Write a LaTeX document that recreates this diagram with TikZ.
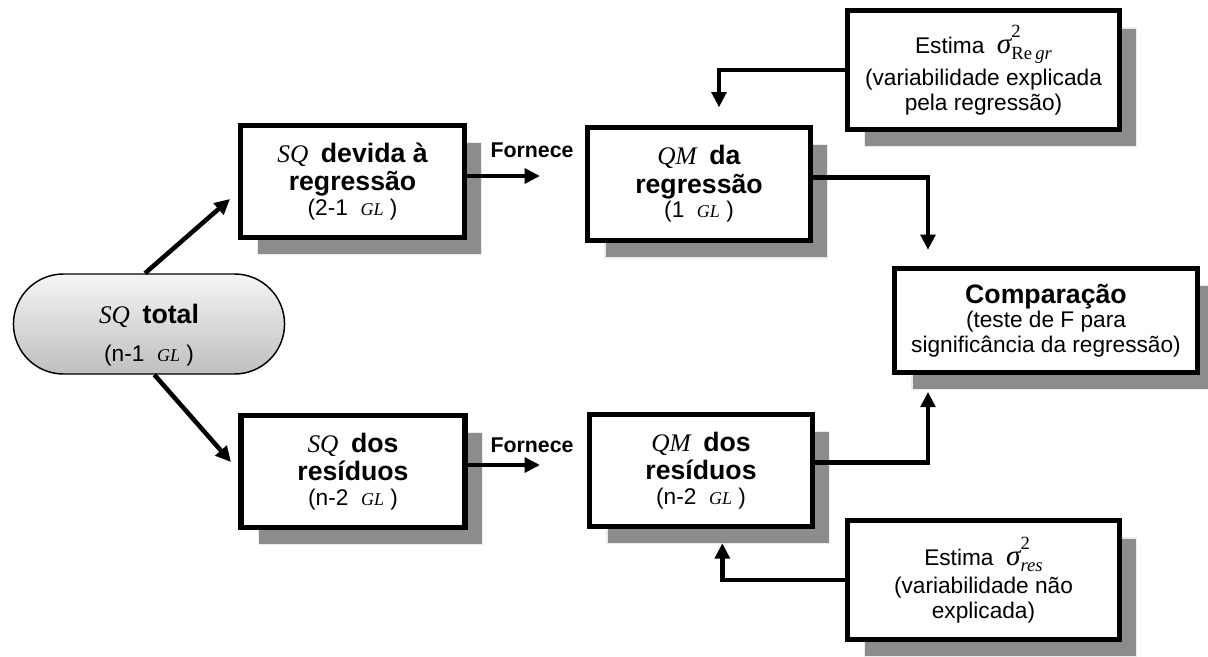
\documentclass[tikz,border=0pt]{standalone}
\usepackage{fontspec}
\setmainfont{Liberation Sans}
\newfontfamily\tnr{Liberation Serif}
\usetikzlibrary{arrows.meta,shapes.misc,shadows}

% italic serif symbols
\newcommand{\mi}[1]{{\tnr\fontsize{19}{19}\selectfont\itshape #1}}
\newcommand{\gl}{{\tnr\fontsize{13.5}{13.5}\selectfont\itshape GL}}
\newcommand{\nb}[1]{{\bfseries\fontsize{20}{22}\selectfont #1}}
\newcommand{\sig}[1]{{\tnr\fontsize{22}{22}\selectfont\itshape σ}{\tnr\fontsize{14}{14}\selectfont\raisebox{12pt}{\rlap{2}}\raisebox{-5pt}{#1}}}

\begin{document}
\begin{tikzpicture}[x=0.75pt,y=-0.75pt,
  caixa/.style={draw, line width=4pt, fill=white, align=center, inner sep=0pt,
    minimum width=168pt, minimum height=84pt, font=\fontsize{17}{18.5}\selectfont,
    drop shadow={shadow xshift=13pt, shadow yshift=-13pt, opacity=1,
      fill=black!45, draw=gray!15, line width=0.8pt}},
  pilula/.style={rounded rectangle, draw, line width=1.1pt, top color=gray!8,
    bottom color=gray!50, minimum width=210pt, minimum height=75pt, align=center,
    font=\fontsize{17}{18.5}\selectfont},
  seta/.style={line width=3.4pt, -{Triangle[length=11.5pt,width=11pt]}},
  rotulo/.style={font=\bfseries\fontsize{16}{17}\selectfont, inner sep=0pt}]
\useasboundingbox (0,0) rectangle (1208,657);

\node[pilula] (total) at (149,324) {\raisebox{-14pt}[0pt][0pt]{\begin{tabular}{@{}c@{}}\mi{SQ}\ \ \nb{total}\\[10pt](n-1\ \ \gl\ )\end{tabular}}};

\node[caixa] (sqreg) at (352.5,181.5) {\mi{SQ}\ \ \nb{devida à}\\[3pt]\nb{regressão}\\(2-1\ \ \gl\ )};
\node[caixa] (sqres) at (353,471.5) {\mi{SQ}\ \ \nb{dos}\\[3pt]\nb{resíduos}\\(n-2\ \ \gl\ )};
\node[caixa, minimum width=167pt, minimum height=85pt] (qmreg) at (699,184) {\mi{QM}\ \ \nb{da}\\[3pt]\nb{regressão}\\(1\ \ \gl\ )};
\node[caixa, minimum width=167pt] (qmres) at (701,470.5) {\mi{QM}\ \ \nb{dos}\\[3pt]\nb{resíduos}\\(n-2\ \ \gl\ )};

\node[caixa, minimum width=204pt, minimum height=89pt] (estreg) at (983.5,70) {Estima \ \sig{Re\,\itshape gr}\\[3pt](variabilidade explicada\\pela regressão)};
\node[caixa, minimum width=204pt, minimum height=89pt] (estres) at (983.5,580) {Estima \ \sig{\itshape res}\\[3pt](variabilidade não\\explicada)};
\node[caixa, minimum width=227pt, minimum height=78pt] (comp) at (1046,320.5) {\nb{Comparação}\\(teste de F para\\significância da regressão)};

\node[rotulo] (forn1) at (532,150) {Fornece};
\node[rotulo] (forn2) at (532,445) {Fornece};

\coordinate (p1) at (540,176);
\coordinate (p2) at (540,465);
\coordinate (p3) at (230,199);
\coordinate (p4) at (231,462);

\draw[seta] ([xshift=-3pt]total.north) -- (p3);
\draw[seta] ([xshift=4pt]total.south) -- (p4);
\draw[seta] (sqreg.east |- p1) -- (p1);
\draw[seta] (sqres.east |- p2) -- (p2);
\draw[seta, shorten >=12pt] ([yshift=5pt]qmreg.east) -| ([xshift=27pt]comp.north west);
\draw[seta, shorten >=12.5pt] ([yshift=6pt]qmres.east) -| ([xshift=27pt]comp.south west);
\draw[seta, shorten >=13pt] (estreg.west) -| ([xshift=15pt]qmreg.north);
\draw[seta, shorten >=10.5pt] (estres.west) -| ([xshift=16pt]qmres.south);

\end{tikzpicture}
\end{document}
